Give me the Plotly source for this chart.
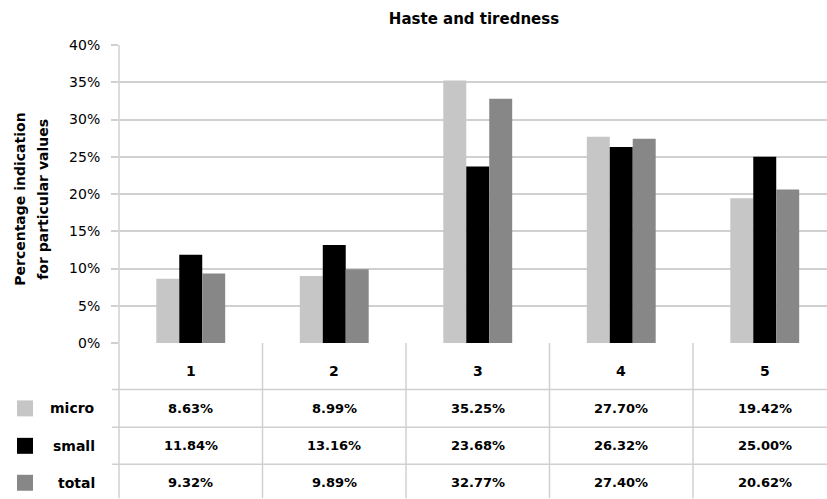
import plotly.graph_objects as go

# ---- data -------------------------------------------------------------
categories = ["1", "2", "3", "4", "5"]
series_names = ["micro", "small", "total"]
micro = [0.0863, 0.0899, 0.3525, 0.2770, 0.1942]
small = [0.1184, 0.1316, 0.2368, 0.2632, 0.2500]
total = [0.0932, 0.0989, 0.3277, 0.2740, 0.2062]
series_values = [micro, small, total]
series_colors = ["#c6c6c6", "#000000", "#878787"]

title_text = "Haste and tiredness"
y_title_lines = ["Percentage indication", "for particular values"]

# ---- layout geometry (pixels) -----------------------------------------
W, H = 827, 499
PLOT_L, PLOT_R = 119, 827
PLOT_T, PLOT_B = 45, 343.5
CAT_W = 143.5  # width of one category slot in pixels

GRID = "#d0d0d0"
FONT = "DejaVu Sans"


def px_x(p):
    """pixel column -> paper x"""
    return (p - PLOT_L) / (PLOT_R - PLOT_L)


def px_y(p):
    """pixel row -> paper y"""
    return (PLOT_B - p) / (PLOT_B - PLOT_T)


fig = go.Figure()
for name, vals, col in zip(series_names, series_values, series_colors):
    fig.add_trace(go.Bar(
        x=categories, y=vals, name=name,
        marker=dict(color=col, line=dict(width=0)),
        showlegend=False,
    ))

x_max = -0.5 + (PLOT_R - PLOT_L) / CAT_W

shapes = []
annotations = []

# vertical axis line running down through the table
shapes.append(dict(type="line", xref="paper", yref="paper",
                   x0=0, x1=0, y0=px_y(H), y1=1,
                   line=dict(color=GRID, width=1.5), layer="below"))
# category separators inside the table
for i in range(len(categories) - 1):
    shapes.append(dict(type="line", xref="x", yref="paper",
                       x0=i + 0.5, x1=i + 0.5, y0=px_y(H), y1=0,
                       line=dict(color=GRID, width=1.5)))
# horizontal row separators of the table
for row_px in (390, 428, 465):
    shapes.append(dict(type="line", xref="paper", yref="paper",
                       x0=px_x(112), x1=1, y0=px_y(row_px), y1=px_y(row_px),
                       line=dict(color=GRID, width=1.5)))

# header row: category labels (positioned by category index)
header_y = px_y(372)
for idx, cat in enumerate(categories):
    annotations.append(dict(x=idx, y=header_y, xref="x", yref="paper",
                            text="<b>%s</b>" % cat, showarrow=False,
                            font=dict(family=FONT, size=14, color="#000000"),
                            xanchor="center", yanchor="middle"))

# value rows with legend keys
row_centers = [409, 446.5, 483.5]
for name, vals, col, rc in zip(series_names, series_values, series_colors, row_centers):
    ry = px_y(rc)
    shapes.append(dict(type="rect", xref="paper", yref="paper",
                       x0=px_x(17), x1=px_x(33), y0=px_y(rc + 8), y1=px_y(rc - 8),
                       fillcolor=col, line=dict(width=0)))
    annotations.append(dict(x=px_x(97), y=ry, xref="paper", yref="paper",
                            text="<b>%s</b>" % name, showarrow=False,
                            font=dict(family=FONT, size=14, color="#000000"),
                            xanchor="right", yanchor="middle"))
    for idx, v in enumerate(vals):
        annotations.append(dict(x=idx, y=ry, xref="x", yref="paper",
                                text="<b>%.2f%%</b>" % (v * 100), showarrow=False,
                                font=dict(family=FONT, size=13, color="#000000"),
                                xanchor="center", yanchor="middle"))

# two-line rotated y-axis title
for line, cx in zip(y_title_lines, (20, 43)):
    annotations.append(dict(x=px_x(cx), y=px_y(200), xref="paper", yref="paper",
                            text="<b>%s</b>" % line, showarrow=False, textangle=-90,
                            font=dict(family=FONT, size=14, color="#000000"),
                            xanchor="center", yanchor="middle"))

fig.update_layout(
    width=W, height=H,
    margin=dict(l=PLOT_L, r=W - PLOT_R, t=PLOT_T, b=H - PLOT_B, pad=0),
    paper_bgcolor="white", plot_bgcolor="white",
    barmode="group", bargap=0.52, bargroupgap=0,
    title=dict(text="<b>%s</b>" % title_text, x=px_x(474), xref="paper",
               y=1 - 19 / H, yanchor="middle", xanchor="center",
               font=dict(family=FONT, size=15, color="#000000")),
    font=dict(family=FONT, color="#000000"),
    xaxis=dict(type="category", range=[-0.5, x_max], showticklabels=False,
               showgrid=False, zeroline=False, showline=False, ticks="",
               fixedrange=True),
    yaxis=dict(range=[0, 0.40], dtick=0.05, tickformat=".0%",
               showgrid=True, gridcolor=GRID, gridwidth=1.5,
               zeroline=False, showline=False,
               ticks="outside", ticklen=7, tickcolor=GRID, tickwidth=1.5,
               ticklabelstandoff=8,
               tickfont=dict(family=FONT, size=14, color="#000000")),
    shapes=shapes,
    annotations=annotations,
)

fig.write_html("out.html")
